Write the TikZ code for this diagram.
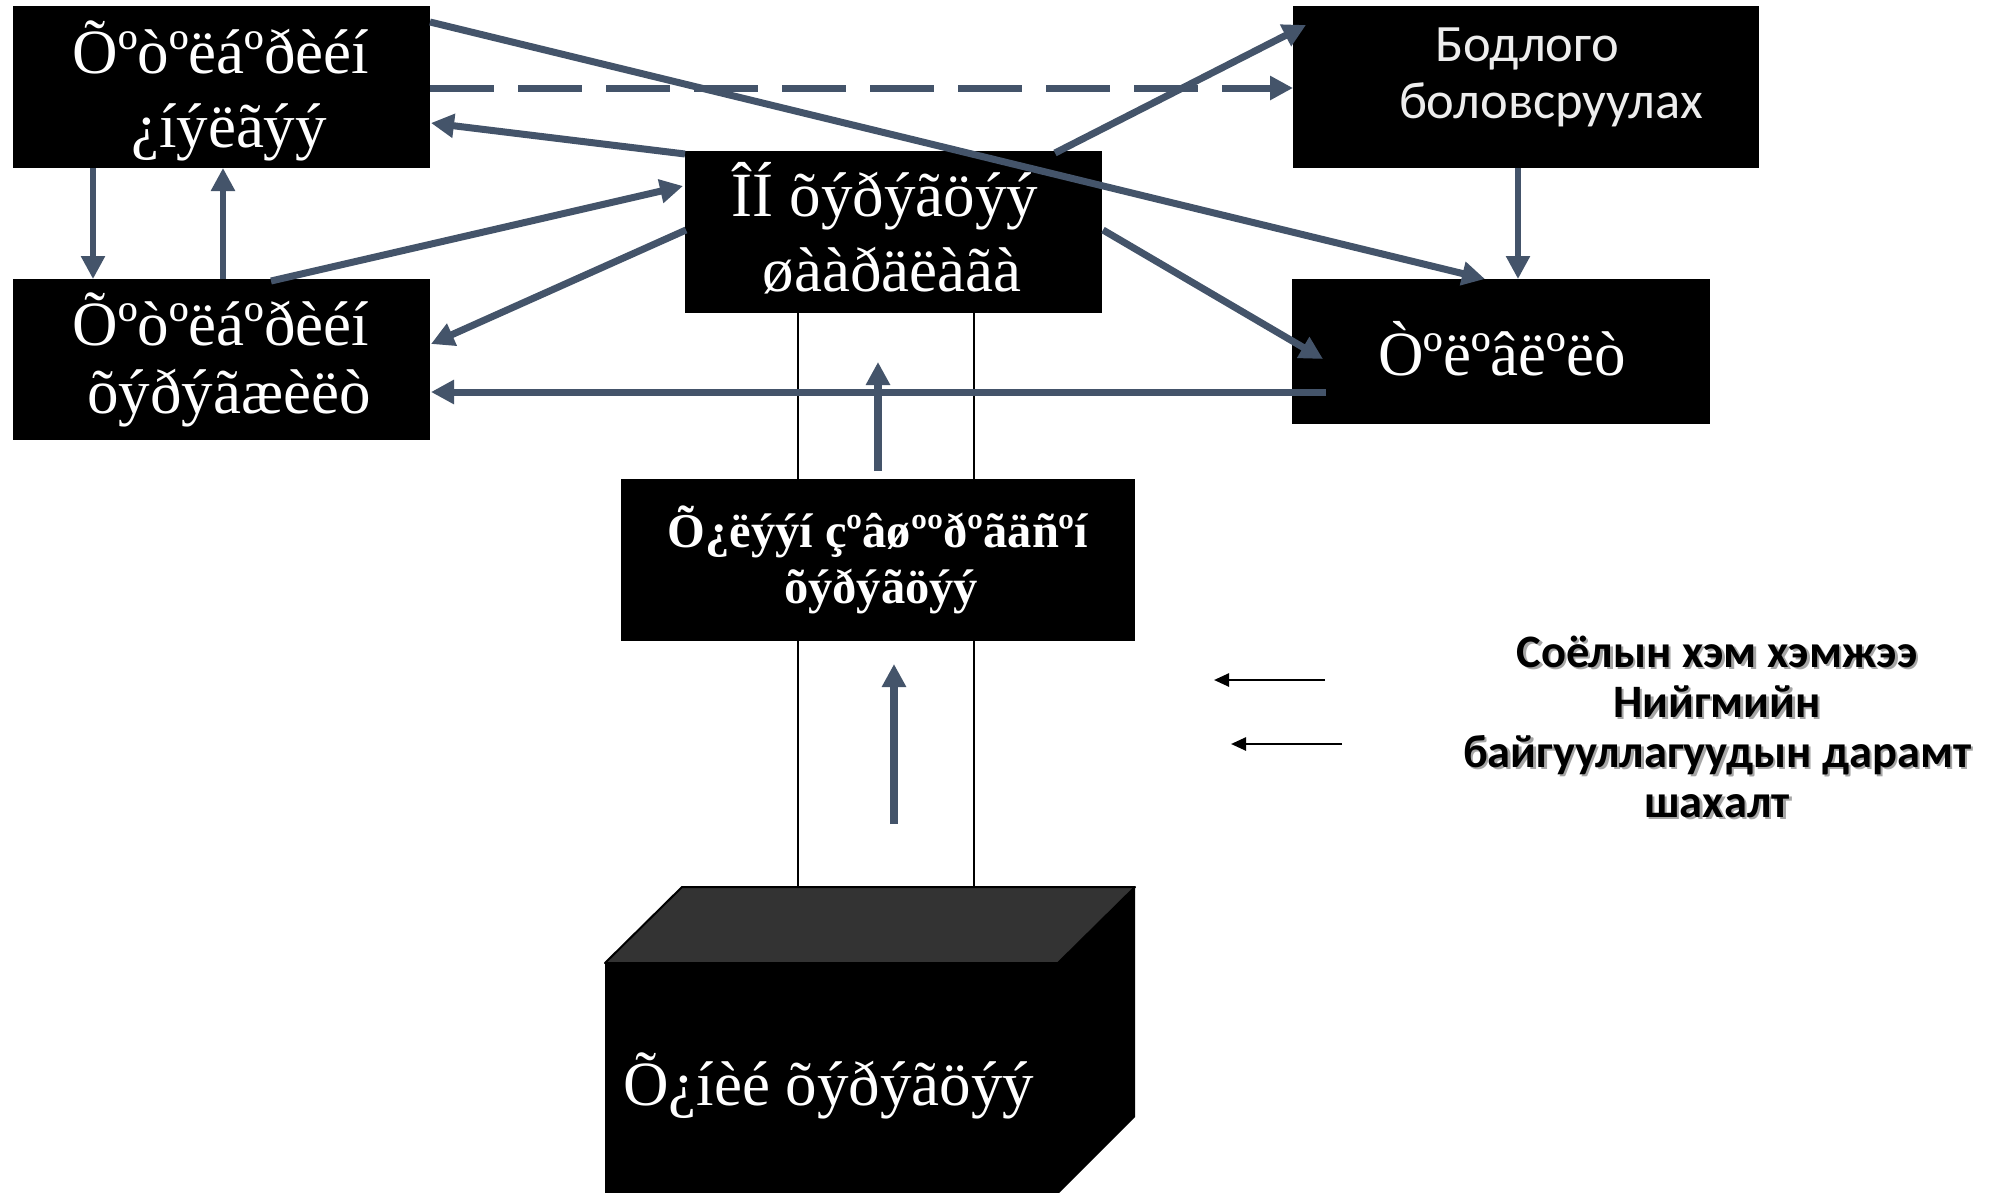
\documentclass[tikz,border=0pt]{standalone}
\usepackage{fontspec}
\setmainfont{Liberation Serif}
\newfontfamily\calibri{Carlito}
\usetikzlibrary{arrows.meta,calc}
\definecolor{slate}{HTML}{44546A}
\definecolor{cubetop}{HTML}{333333}
\definecolor{dtext}{HTML}{EDEDED}
\begin{document}
\begin{tikzpicture}[x=1pt,y=-1pt,
  blackbox/.style={fill=black,draw=none,inner sep=0pt,outer sep=0pt},
  serif/.style={text=white,inner sep=0pt,anchor=base,font=\fontsize{63}{74}\selectfont},
  bserif/.style={text=white,inner sep=0pt,anchor=base,font=\fontsize{48.5}{56}\selectfont\bfseries},
  dlabel/.style={text=dtext,inner sep=0pt,anchor=base,font=\calibri\fontsize{52.5}{60}\selectfont},
  rlabel/.style={inner sep=0pt,anchor=base,font=\calibri\bfseries\fontsize{46.5}{52}\selectfont},
  rshadow/.style={rlabel,text=black!35},
  conn/.style={draw=slate,line width=7pt,-{Triangle[length=23pt,width=23pt]}},
  thinconn/.style={conn,line width=5.5pt},
  dashconn/.style={conn,dash pattern=on 64pt off 24pt},
  blackarrow/.style={draw=black,line width=2.5pt,-{Triangle[length=15pt,width=13pt]}},
  guide/.style={draw=black,line width=2pt}
]
\useasboundingbox (0,0) rectangle (2006,1192);
\fill[white] (0,0) rectangle (2006,1192);

% boxes
\node[blackbox,minimum width=417pt,minimum height=162pt] (A) at (221.5,87) {};
\node[blackbox,minimum width=417pt,minimum height=161pt] (B) at (221.5,359.5) {};
\node[blackbox,minimum width=417pt,minimum height=162pt] (C) at (893.5,232) {};
\node[blackbox,minimum width=466pt,minimum height=162pt] (D) at (1526,87) {};
\node[blackbox,minimum width=418pt,minimum height=145pt] (E) at (1501,351.5) {};

% guide lines between C and cube
\coordinate (cubeL) at (798,887);
\coordinate (cubeR) at (974,887);
\draw[guide] ($(C.south west)+(113,0)$) -- (cubeL);
\draw[guide] ($(C.south west)+(289,0)$) -- (cubeR);

\node[blackbox,minimum width=514pt,minimum height=162pt] (F) at (878,560) {};

% cube
\begin{scope}
\clip (0,0) rectangle (2006,1192);
\fill[black] (605,963) rectangle (1058,1205);
\fill[black] (1058,963) -- (1135,887) -- (1135,1117) -- (1058,1194) -- (1058,1205) -- cycle;
\filldraw[fill=cubetop,draw=black,line width=2pt,line join=round] (605,963) -- (682,887) -- (1135,887) -- (1058,963) -- cycle;
\end{scope}
\node[serif,anchor=base west] (cube) at (623,1105) {Õ¿íèé õýðýãöýý};

% texts
\node[serif] (A1) at (221,73) {Õºòºëáºðèéí};
\node[serif] (A2) at (229,147) {¿íýëãýý};
\node[serif] (B1) at (221,345) {Õºòºëáºðèéí};
\node[serif] (B2) at (229,413) {õýðýãæèëò};
\node[serif] (C1) at (885,216) {ÎÍ õýðýãöýý};
\node[serif] (C2) at (892,291) {øààðäëàãà};
\node[serif] (E1) at (1502,375) {Òºëºâëºëò};
\node[bserif] (F1) at (878,547) {Õ¿ëýýí çºâøººðºãäñºí};
\node[bserif] (F2) at (881,603) {õýðýãöýý};
\node[dlabel] (D1) at (1527,61) {Бодлого};
\node[dlabel] (D2) at (1551,118) {боловсруулах};

% right labels
\node[rshadow] at (1719.5,669.5) {Соёлын хэм хэмжээ};
\node[rshadow] at (1719.5,719.5) {Нийгмийн};
\node[rshadow] at (1719.5,769.5) {байгууллагуудын дарамт};
\node[rshadow] at (1719.5,819.5) {шахалт};
\node[rlabel] (R1) at (1717,667) {Соёлын хэм хэмжээ};
\node[rlabel] (R2) at (1717,717) {Нийгмийн};
\node[rlabel] (R3) at (1717,767) {байгууллагуудын дарамт};
\node[rlabel] (R4) at (1717,817) {шахалт};

% connectors
\draw[thinconn] ($(A.south west)+(80,0)$) -- ($(B.north west)+(80,0)$);
\draw[thinconn] ($(B.north west)+(210,0)$) -- ($(A.south west)+(210,0)$);
\draw[dashconn] ($(A.east)+(0,1)$) -- ($(D.west)+(0,1)$);
\draw[conn] ($(C.north west)+(0,3)$) -- ($(A.north east)+(1,117)$);
\draw[conn] ($(B.north west)+(258,2)$) -- ($(C.north west)+(-2,35)$);
\draw[conn] ($(C.north west)+(1,79)$) -- ($(B.north east)+(1,65)$);
\draw[conn] ($(E.north west)+(34,113)$) -- ($(B.north east)+(1,113)$);
\draw[conn] ($(C.north east)+(-47,2)$) -- ($(D.north west)+(13,19)$);
\draw[conn] ($(C.north east)+(1,79)$) -- ($(E.north west)+(31,80)$);
\draw[thinconn] ($(D.south west)+(225,0)$) -- ($(E.north west)+(226,0)$);
\draw[conn] ($(A.north east)+(0,16)$) -- ($(E.north west)+(193,0)$);
\draw[conn,line width=7.5pt] ($(F.north west)+(257,-8)$) -- ($(C.south west)+(193,49)$);
\coordinate (lowS) at ($(F.south west)+(273,183)$);
\coordinate (lowT) at ($(F.south west)+(273,23)$);
\draw[conn,line width=8pt] (lowS) -- (lowT);

% black arrows
\coordinate (k1s) at (1325,680);
\coordinate (k1t) at (1214,680);
\coordinate (k2s) at (1342,744);
\coordinate (k2t) at (1231,744);
\draw[blackarrow] (k1s) -- (k1t);
\draw[blackarrow] (k2s) -- (k2t);
\end{tikzpicture}
\end{document}
